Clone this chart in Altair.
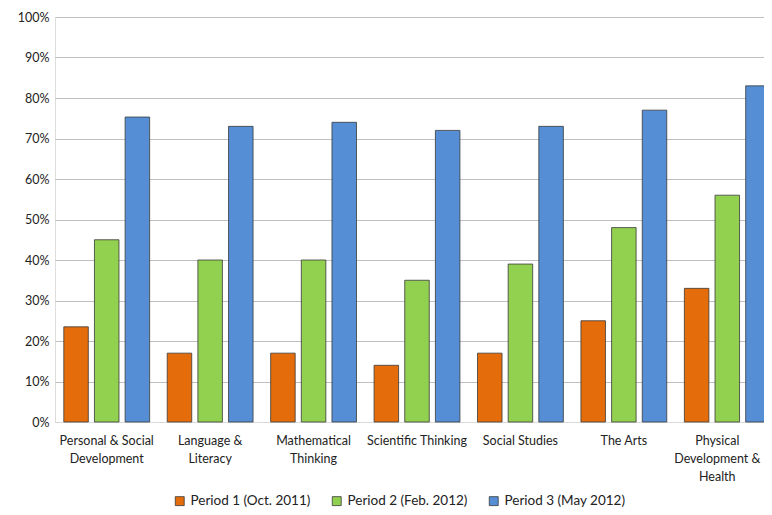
import altair as alt
import pandas as pd

categories = [
    "Personal & Social|Development",
    "Language &|Literacy",
    "Mathematical|Thinking",
    "Scientific Thinking",
    "Social Studies",
    "The Arts",
    "Physical|Development &|Health",
]
periods = ["Period 1 (Oct. 2011)", "Period 2 (Feb. 2012)", "Period 3 (May 2012)"]
period1 = [0.235, 0.17, 0.17, 0.14, 0.17, 0.25, 0.33]
period2 = [0.45, 0.40, 0.40, 0.35, 0.39, 0.48, 0.56]
period3 = [0.753, 0.73, 0.74, 0.72, 0.73, 0.77, 0.83]
colors = ["#E46C0A", "#92D050", "#558ED5"]

rows = []
for series, vals in zip(periods, [period1, period2, period3]):
    for c, v in zip(categories, vals):
        rows.append({"category": c, "period": series, "value": v})
df = pd.DataFrame(rows)

FONT = "Lato"

chart = (
    alt.Chart(df)
    .mark_bar(stroke="#3a3a3a", strokeWidth=0.8)
    .encode(
        x=alt.X(
            "category:N",
            sort=categories,
            title=None,
            scale=alt.Scale(paddingInner=0.17, paddingOuter=0.085),
            axis=alt.Axis(
                labelAngle=0,
                labelExpr="split(datum.label, '|')",
                labelFont=FONT,
                labelFontSize=12.5,
                labelColor="#222222",
                labelLineHeight=18,
                labelPadding=12,
                labelBaseline="top",
                labelOffset={
                    "condition": {"test": "indexof(datum.value, 'Physical') == 0", "value": -10},
                    "value": 0,
                },
                ticks=False,
                domainColor="#d9d9d9",
                domainWidth=1.2,
                labelLimit=200,
            ),
        ),
        xOffset=alt.XOffset("period:N", sort=periods, scale=alt.Scale(paddingInner=0.2)),
        y=alt.Y(
            "value:Q",
            title=None,
            scale=alt.Scale(domain=[0, 1], nice=False),
            axis=alt.Axis(
                format=".0%",
                values=[i / 10 for i in range(11)],
                labelFont=FONT,
                labelFontSize=12.5,
                labelColor="#222222",
                labelPadding=6,
                ticks=False,
                domain=False,
                gridColor="#bfbfbf",
                gridWidth=1,
            ),
        ),
        color=alt.Color(
            "period:N",
            sort=periods,
            scale=alt.Scale(domain=periods, range=colors),
            legend=alt.Legend(
                title=None,
                orient="none",
                legendX=118,
                legendY=477,
                direction="horizontal",
                symbolType="square",
                symbolSize=80,
                symbolStrokeColor="#3a3a3a",
                symbolStrokeWidth=0.8,
                symbolOpacity=1,
                labelFont=FONT,
                labelFontSize=13.5,
                labelColor="#222222",
                columnPadding=19,
                labelOffset=4,
                labelLimit=300,
            ),
        ),
    )
    .properties(
        width=724,
        height=405,
        autosize=alt.AutoSizeParams(type="none"),
        padding={"left": 47, "top": 9, "right": -15, "bottom": 85},
    )
    .configure_view(stroke="#595959", strokeWidth=1.2)
    .configure(background="white")
)

chart.save("out.html", embed_options={"renderer": "svg", "actions": False})
